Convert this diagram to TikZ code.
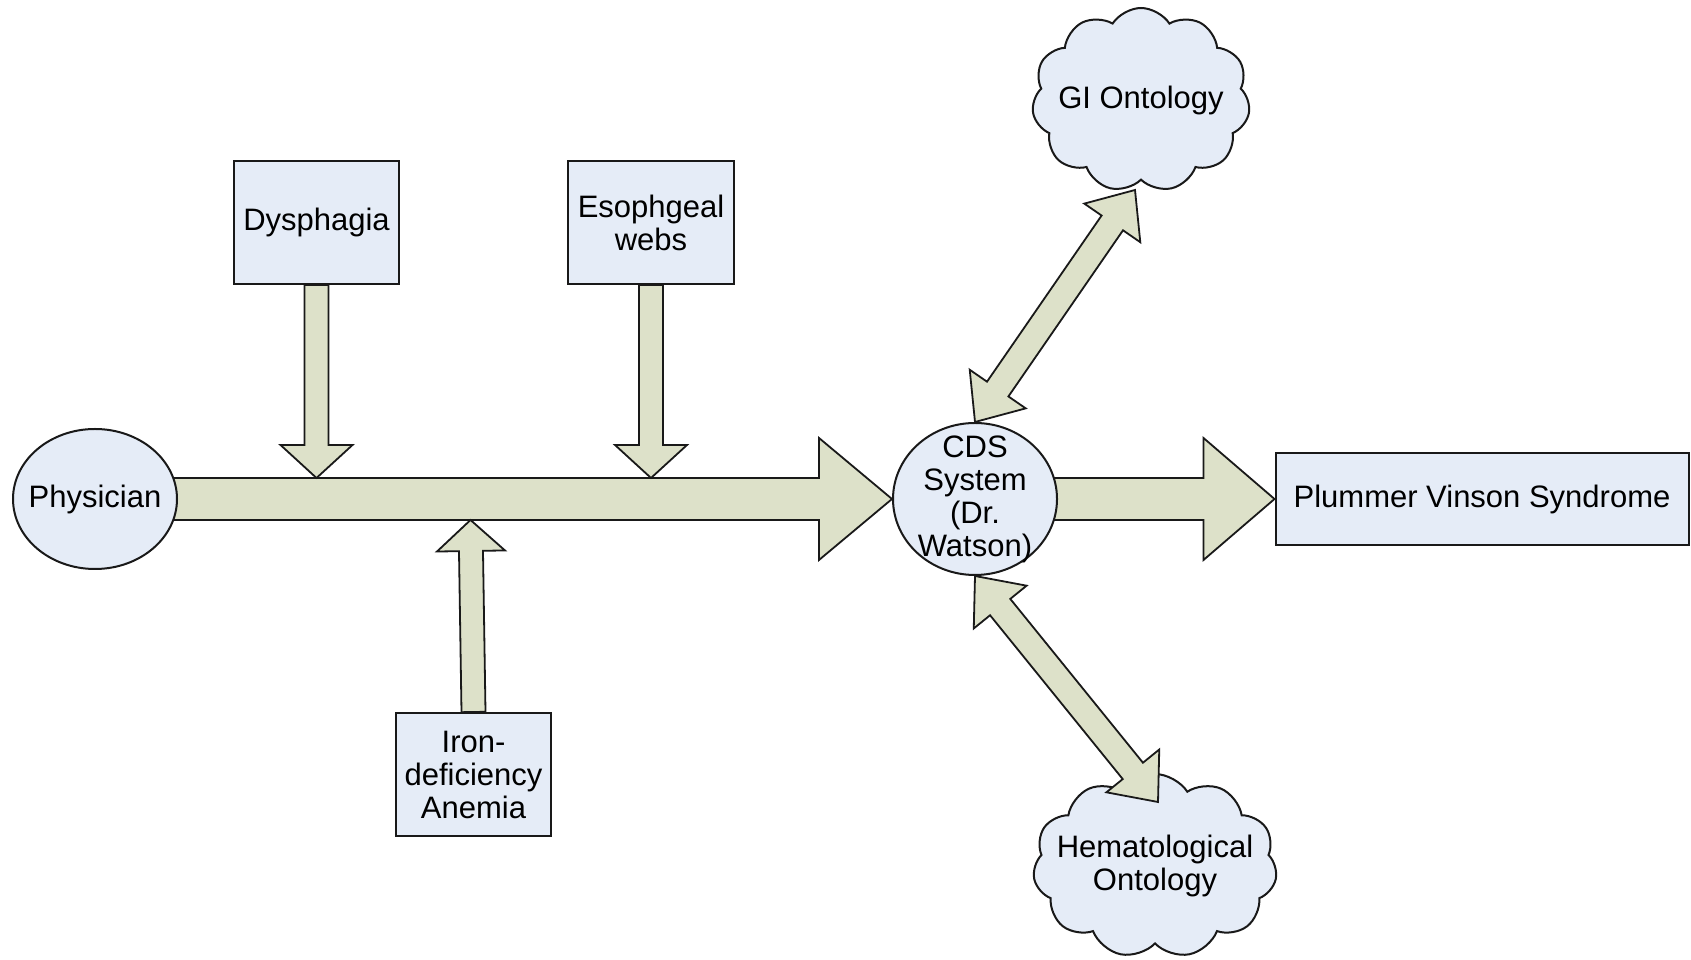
\documentclass[tikz,border=0pt]{standalone}
\usepackage{fontspec}
\setmainfont{Liberation Sans}
\usetikzlibrary{shapes.geometric,shapes.symbols,calc,backgrounds}
\definecolor{nodefill}{RGB}{229,236,247}
\definecolor{arrowfill}{RGB}{221,225,201}
\definecolor{edgecol}{RGB}{25,25,25}
\tikzset{
  base/.style={draw=edgecol, line width=2pt, fill=nodefill, font=\fontsize{31}{33}\selectfont, align=center, inner sep=0pt},
  box/.style={base, rectangle},
  oval/.style={base, ellipse},
  cloudnode/.style={base, cloud, cloud puffs=11, cloud puff arc=115, cloud ignores aspect},
  lbl/.style={font=\fontsize{31}{33}\selectfont, align=center, inner sep=0pt},
  blockarr/.style={draw=edgecol, line width=1.8pt, fill=arrowfill, line join=miter},
}
% single block arrow: #1 start, #2 tip, #3 shaft half width, #4 head half width, #5 head length
\newcommand{\blkarrow}[5]{%
  \path coordinate (tmpb) at ($#2!#5!#1$);
  \filldraw[blockarr] ($#1!#3!90:#2$) -- ($(tmpb)!#3!90:#2$) -- ($(tmpb)!#4!90:#2$) -- #2
    -- ($(tmpb)!#4!-90:#2$) -- ($(tmpb)!#3!-90:#2$) -- ($#1!#3!-90:#2$) -- cycle;}
% double block arrow
\newcommand{\dblblkarrow}[5]{%
  \path coordinate (tmpa) at ($#1!#5!#2$);
  \path coordinate (tmpb) at ($#2!#5!#1$);
  \filldraw[blockarr] #1 -- ($(tmpa)!#4!90:#2$) -- ($(tmpa)!#3!90:#2$) -- ($(tmpb)!#3!90:#2$)
    -- ($(tmpb)!#4!90:#2$) -- #2 -- ($(tmpb)!#4!-90:#2$) -- ($(tmpb)!#3!-90:#2$)
    -- ($(tmpa)!#3!-90:#2$) -- ($(tmpa)!#4!-90:#2$) -- cycle;}
\begin{document}
\begin{tikzpicture}[x=1pt,y=1pt]
\useasboundingbox (0,0) rectangle (1691,960);
% nodes
\node[oval, minimum width=164pt, minimum height=140pt, label={[lbl]center:Physician}] (phys) at (95,461) {};
\node[box, minimum width=165pt, minimum height=123pt] (dys) at (316.5,737.5) {Dysphagia};
\node[box, minimum width=166pt, minimum height=123pt] (eso) at (651,737.5) {Esophgeal\\webs};
\node[box, minimum width=155pt, minimum height=123pt] (iron) at (473.5,185.5) {Iron-\\deficiency\\Anemia};
\node[oval, minimum width=164pt, minimum height=152pt, label={[lbl]center:{CDS\\System\\(Dr.\\Watson)}}] (cds) at (975,461) {};
\node[box, minimum width=413pt, minimum height=92pt] (pvs) at (1482,461) {Plummer Vinson Syndrome};
\node[cloudnode, minimum width=218pt, minimum height=184pt, label={[lbl]center:GI Ontology}] (gi) at (1141,860) {};
\node[cloudnode, minimum width=244pt, minimum height=184pt, label={[lbl]center:{Hematological\\Ontology}}] (hem) at (1155,94) {};
% connector end points
\coordinate (pstart) at ($(phys.east)+(-6,0)$);
\coordinate (cstart) at ($(cds.east)+(-6,0)$);
\coordinate (t1) at ($(dys.south |- phys.center)+(0,21)$);
\coordinate (t2) at ($(eso.south |- phys.center)+(0,21)$);
\coordinate (t3) at ($(iron.north |- phys.center)+(-3,-21)$);
\coordinate (hemtop) at ($(hem.center)+(3,64)$);
\coordinate (gibot) at ($(gi.center)+(-6,-90)$);
\begin{pgfonlayer}{background}
\blkarrow{(pstart)}{(cds.west)}{21pt}{61pt}{73pt}
\blkarrow{(dys.south)}{(t1)}{12pt}{36pt}{33pt}
\blkarrow{(eso.south)}{(t2)}{12pt}{36pt}{33pt}
\blkarrow{(iron.north)}{(t3)}{12pt}{34pt}{31pt}
\blkarrow{(cstart)}{(pvs.west)}{21pt}{61pt}{71pt}
\end{pgfonlayer}
\dblblkarrow{(cds.north)}{(gibot)}{13pt}{34pt}{40pt}
\dblblkarrow{(cds.south)}{(hemtop)}{13pt}{34pt}{40pt}
\end{tikzpicture}
\end{document}
